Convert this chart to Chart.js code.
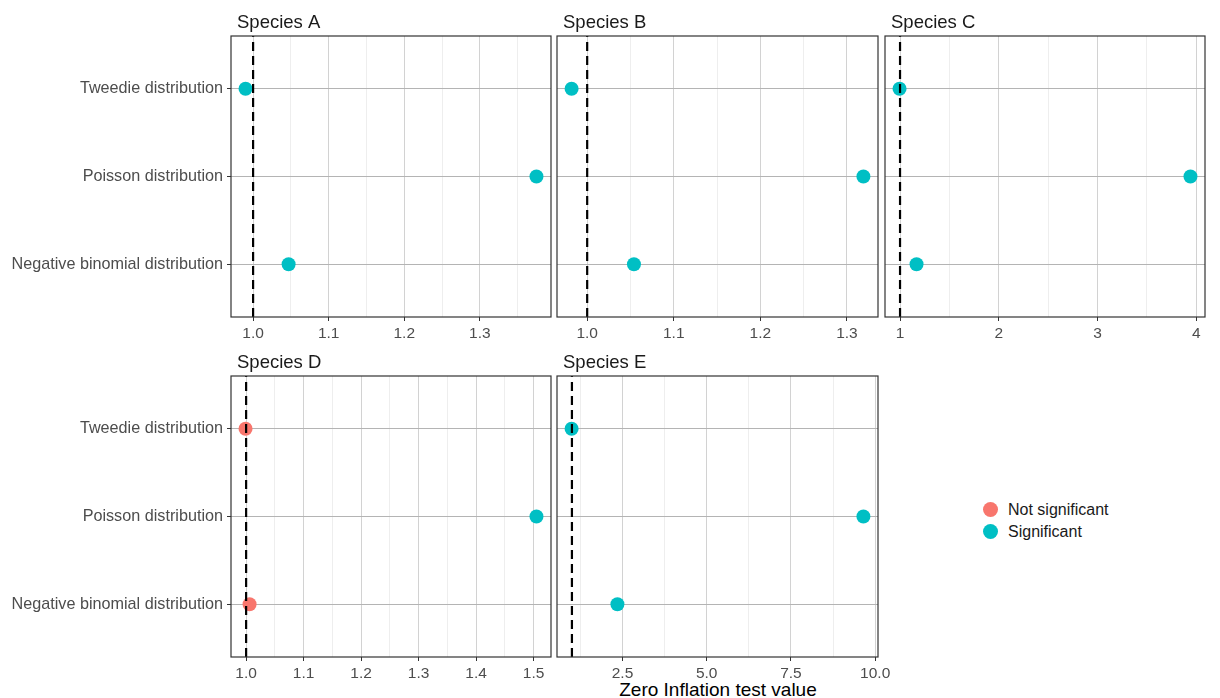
<!DOCTYPE html>
<html lang="en">
<head>
<meta charset="UTF-8">
<title>Zero Inflation test value</title>
<script src="https://cdn.jsdelivr.net/npm/chart.js"></script>
<style>
  body { margin: 0; width: 1220px; height: 698px; background: #fff; overflow: hidden; position: relative;
         font-family: "Liberation Sans", Arial, sans-serif; }
  canvas { position: absolute; }
  #xTitle { position: absolute; left: 231px; width: 974px; top: 679px; text-align: center; font-size: 19px; color: #000; }
  #legend { position: absolute; left: 983px; top: 499px; font-size: 16px; color: #1a1a1a; }
  .item { height: 22px; line-height: 22px; white-space: nowrap; }
  .dot { display: inline-block; width: 15px; height: 15px; border-radius: 50%; vertical-align: -2px; margin-right: 10px; }
</style>
</head>
<body>
<div id="xTitle"></div>
<div id="legend"></div>
<script>
// categories from bottom to top of each panel
const categories = ['Negative binomial distribution', 'Poisson distribution', 'Tweedie distribution'];
const panelTitles = ['Species A', 'Species B', 'Species C', 'Species D', 'Species E'];

// test values, same order as categories
const speciesA = [1.047, 1.375, 0.990];
const speciesB = [1.054, 1.319, 0.982];
const speciesC = [1.167, 3.940, 0.995];
const speciesD = [1.006, 1.505, 0.999];
const speciesE = [2.350, 9.650, 0.990];

const significantA = [true, true, true];
const significantB = [true, true, true];
const significantC = [true, true, true];
const significantD = [false, true, false];
const significantE = [true, true, true];

const ticksA = ['1.0', '1.1', '1.2', '1.3'];
const ticksB = ['1.0', '1.1', '1.2', '1.3'];
const ticksC = ['1', '2', '3', '4'];
const ticksD = ['1.0', '1.1', '1.2', '1.3', '1.4', '1.5'];
const ticksE = ['2.5', '5.0', '7.5', '10.0'];

const referenceLine = 1;
const legendLabels = ['Not significant', 'Significant'];
const xAxisTitle = 'Zero Inflation test value';

const colors = ['#F8766D', '#00BFC4'];
const FONT = '"Liberation Sans", Arial, sans-serif';
const TOP_SPACE = 36, PLOT_H = 281, BOTTOM_SPACE = 30, RIGHT_SPACE = 14;

const panels = [
    { title: panelTitles[0], values: speciesA, sig: significantA, ticks: ticksA, x: 231, y: 36, w: 320, labels: true },
    { title: panelTitles[1], values: speciesB, sig: significantB, ticks: ticksB, x: 557, y: 36, w: 321, labels: false },
    { title: panelTitles[2], values: speciesC, sig: significantC, ticks: ticksC, x: 885, y: 36, w: 320, labels: false },
    { title: panelTitles[3], values: speciesD, sig: significantD, ticks: ticksD, x: 231, y: 376, w: 320, labels: true },
    { title: panelTitles[4], values: speciesE, sig: significantE, ticks: ticksE, x: 557, y: 376, w: 321, labels: false }
];

// strip title above each panel
const stripTitle = {
    id: 'stripTitle',
    afterDraw(chart, args, opts) {
        const { ctx, chartArea } = chart;
        ctx.save();
        ctx.font = '18.5px ' + FONT;
        ctx.fillStyle = '#1a1a1a';
        ctx.textBaseline = 'alphabetic';
        ctx.fillText(opts.text, chartArea.left + 6, chartArea.top - 8);
        ctx.restore();
    }
};

// dark frame round the panel
const panelBorder = {
    id: 'panelBorder',
    afterDraw(chart) {
        const { ctx, chartArea: a } = chart;
        ctx.save();
        ctx.strokeStyle = '#333333';
        ctx.lineWidth = 1.2;
        ctx.strokeRect(a.left, a.top, a.right - a.left, a.bottom - a.top);
        ctx.restore();
    }
};

const same = (a, b) => Math.abs(a - b) < 1e-9;

panels.forEach(p => {
    const left = p.labels ? 0 : p.x - 8;
    const axisW = p.x - left;
    const canvas = document.createElement('canvas');
    canvas.width = axisW + p.w + RIGHT_SPACE;
    canvas.height = TOP_SPACE + PLOT_H + BOTTOM_SPACE;
    canvas.style.left = left + 'px';
    canvas.style.top = (p.y - TOP_SPACE) + 'px';
    document.body.appendChild(canvas);

    // x range like ggplot: data plus the reference line, 5% expansion
    const lo = Math.min(referenceLine, ...p.values);
    const hi = Math.max(referenceLine, ...p.values);
    const pad = (hi - lo) * 0.05;
    const xMin = lo - pad, xMax = hi + pad;

    const major = p.ticks.map(Number);
    const step = major[1] - major[0];
    const minor = [];
    for (let v = major[0] - step / 2; v <= xMax; v += step) {
        if (v >= xMin) minor.push(Math.round(v * 1e6) / 1e6);
    }
    const allTicks = major.concat(minor).filter(v => v >= xMin && v <= xMax).sort((a, b) => a - b);
    const isMajor = v => major.some(m => same(m, v));

    const yMin = 1 - 0.6, yMax = categories.length + 0.6;
    const pts = flag => p.values
        .map((v, i) => ({ x: v, y: i + 1, s: p.sig[i] }))
        .filter(d => d.s === flag);

    new Chart(canvas, {
        type: 'scatter',
        data: {
            datasets: [
                {
                    type: 'line',
                    label: 'reference',
                    data: [{ x: referenceLine, y: yMin }, { x: referenceLine, y: yMax }],
                    borderColor: '#000',
                    borderWidth: 2.2,
                    borderDash: [9, 5],
                    pointRadius: 0,
                    fill: false
                },
                {
                    label: legendLabels[0],
                    data: pts(false),
                    pointBackgroundColor: colors[0],
                    pointBorderWidth: 0,
                    pointRadius: 7
                },
                {
                    label: legendLabels[1],
                    data: pts(true),
                    pointBackgroundColor: colors[1],
                    pointBorderWidth: 0,
                    pointRadius: 7
                }
            ]
        },
        options: {
            responsive: false,
            animation: false,
            events: [],
            layout: { padding: { top: TOP_SPACE, right: RIGHT_SPACE, left: 0, bottom: 0 } },
            plugins: {
                legend: { display: false },
                tooltip: { enabled: false },
                stripTitle: { text: p.title }
            },
            scales: {
                x: {
                    type: 'linear',
                    min: xMin,
                    max: xMax,
                    afterBuildTicks: s => { s.ticks = allTicks.map(v => ({ value: v })); },
                    afterFit: s => { s.height = BOTTOM_SPACE; s.paddingLeft = 0; s.paddingRight = 0; },
                    border: { display: false },
                    grid: {
                        color: c => isMajor(c.tick.value) ? '#d2d2d2' : '#eeeeee',
                        tickColor: c => isMajor(c.tick.value) ? '#333333' : 'rgba(0,0,0,0)',
                        tickLength: 4,
                        lineWidth: 1
                    },
                    ticks: {
                        autoSkip: false,
                        maxRotation: 0,
                        padding: 3,
                        color: '#4d4d4d',
                        font: { family: FONT, size: 15.5 },
                        callback: v => {
                            const i = major.findIndex(m => same(m, v));
                            return i >= 0 ? p.ticks[i] : '';
                        }
                    }
                },
                y: {
                    type: 'linear',
                    min: yMin,
                    max: yMax,
                    afterBuildTicks: s => { s.ticks = categories.map((c, i) => ({ value: i + 1 })); },
                    afterFit: s => { s.width = axisW; s.paddingTop = 0; s.paddingBottom = 0; },
                    border: { display: false },
                    grid: {
                        color: '#b4b4b4',
                        tickColor: '#333333',
                        tickLength: 4,
                        drawTicks: p.labels
                    },
                    ticks: {
                        display: p.labels,
                        padding: 4,
                        color: '#4d4d4d',
                        font: { family: FONT, size: 16.2 },
                        callback: v => categories[Math.round(v) - 1]
                    }
                }
            }
        },
        plugins: [stripTitle, panelBorder]
    });
});

document.getElementById('xTitle').textContent = xAxisTitle;
const legend = document.getElementById('legend');
legendLabels.forEach((label, i) => {
    const row = document.createElement('div');
    row.className = 'item';
    const dot = document.createElement('span');
    dot.className = 'dot';
    dot.style.background = colors[i];
    row.appendChild(dot);
    row.appendChild(document.createTextNode(label));
    legend.appendChild(row);
});
</script>
</body>
</html>
